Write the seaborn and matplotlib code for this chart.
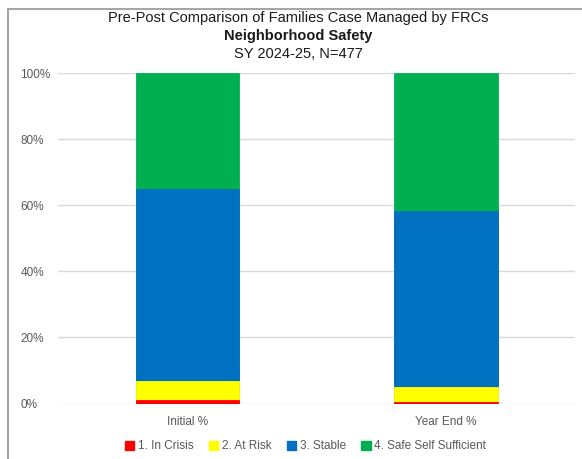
import pandas as pd
import matplotlib
matplotlib.use("Agg")
import matplotlib.pyplot as plt
import seaborn as sns
from matplotlib.lines import Line2D
from matplotlib.patches import Patch

# data (percent of families)
periods = ["Initial %", "Year End %"]
levels = ["1. In Crisis", "2. At Risk", "3. Stable", "4. Safe Self Sufficient"]
in_crisis = [1.1, 0.6]
at_risk = [5.8, 4.5]
stable = [58.2, 53.2]
safe = [34.9, 41.7]
colors = ["#ff0000", "#ffff00", "#0070c0", "#00b050"]

sns.set_style("white")
plt.rcParams["font.family"] = ["Liberation Sans", "DejaVu Sans"]

df = pd.DataFrame({"period": periods, levels[0]: in_crisis, levels[1]: at_risk,
                   levels[2]: stable, levels[3]: safe})
# cumulative heights so the stack can be drawn top layer first
cum = df[levels].cumsum(axis=1)

fig = plt.figure(figsize=(5.82, 4.59), dpi=100)
ax = fig.add_axes([0.0997, 0.1209, 0.8885, 0.7194])

for lvl, col in reversed(list(zip(levels, colors))):
    sns.barplot(x=df["period"], y=cum[lvl], color=col, width=0.4, ax=ax,
                saturation=1, edgecolor=col, linewidth=0.6, zorder=3)

ax.set_ylim(0, 100)
ax.set_xlim(-0.5, 1.5)
ax.set_yticks(range(0, 101, 20))
ax.set_yticklabels([f"{v}%" for v in range(0, 101, 20)], ha="left")
ax.yaxis.grid(True, color="#d9d9d9", linewidth=1)
ax.set_axisbelow(True)
ax.set_xlabel("")
ax.set_ylabel("")
for s in ax.spines.values():
    s.set_visible(False)
ax.tick_params(axis="both", length=0, labelsize=8.5, labelcolor="#595959")
ax.tick_params(axis="x", pad=9)
ax.tick_params(axis="y", pad=27)

fig.text(0.512, 0.960, "Pre-Post Comparison of Families Case Managed by FRCs",
         ha="center", va="center", fontsize=10.5, color="#1a1a1a")
fig.text(0.512, 0.921, "Neighborhood Safety", ha="center", va="center",
         fontsize=10.5, fontweight="bold", color="#1a1a1a")
fig.text(0.512, 0.882, "SY 2024-25, N=477", ha="center", va="center",
         fontsize=10.5, color="#1a1a1a")

handles = [Patch(facecolor=c, edgecolor=c) for c in colors]
fig.legend(handles, levels, loc="center", bbox_to_anchor=(0.525, 0.028), ncol=4,
           frameon=False, fontsize=8.5, handlelength=0.8, handleheight=0.8,
           handletextpad=0.3, columnspacing=1.3, labelcolor="#595959")

# outer frame lines (left and top)
fig.add_artist(Line2D([0.0145, 0.0145], [0, 0.981], color="#a6a6a6", linewidth=1.5))
fig.add_artist(Line2D([0.0145, 1], [0.981, 0.981], color="#a6a6a6", linewidth=1.5))

fig.savefig("out.png", dpi=100)
